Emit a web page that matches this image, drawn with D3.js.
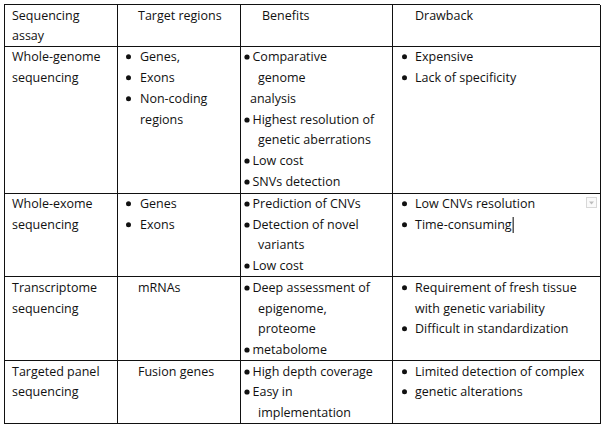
<!DOCTYPE html>
<html>
<head>
<meta charset="utf-8">
<script src="https://cdn.jsdelivr.net/npm/d3@7"></script>
<style>
  body { margin: 0; background: #fff; }
  svg { display: block; }
  .cell text { font-family: "Open Sans", sans-serif; font-size: 12.5px; fill: #111; }
</style>
</head>
<body>
<svg id="chart"></svg>
<script>
// table content, one array per column
// "• " = list bullet, "●" = tight bullet, leading "  " = hanging continuation
const headers = [["Sequencing", "assay"], ["Target regions"], ["Benefits"], ["Drawback"]]

const assays = [
  ["Whole-genome", "sequencing"],
  ["Whole-exome", "sequencing"],
  ["Transcriptome", "sequencing"],
  ["Targeted panel", "sequencing"]
]

const targets = [
  ["• Genes,", "• Exons", "• Non-coding", "  regions"],
  ["• Genes", "• Exons"],
  ["mRNAs"],
  ["Fusion genes"]
]

const benefits = [
  ["●Comparative", "  genome", "analysis", "●Highest resolution of", "  genetic aberrations", "●Low cost", "●SNVs detection"],
  ["●Prediction of CNVs", "●Detection of novel", "  variants", "●Low cost"],
  ["●Deep assessment of", "  epigenome,", "  proteome", "●metabolome"],
  ["●High depth coverage", "●Easy in", "  implementation"]
]

const drawbacks = [
  ["• Expensive", "• Lack of specificity"],
  ["• Low CNVs resolution", "• Time-consuming"],
  ["• Requirement of fresh tissue", "  with genetic variability", "• Difficult in standardization"],
  ["• Limited detection of complex", "• genetic alterations"]
]

const width = 605
const height = 430
const lineStep = 20.7

// column layout: edges and text offsets
const edges = [4, 117, 240, 392, 600]
const cols = [
  { head: 12, text: 12 },
  { head: 138, text: 138, bullet: 128.5, list: 140 },
  { head: 262, text: 250, tight: 247, tightText: 252.5, indent: 258 },
  { head: 415, text: 415, bullet: 404.5, list: 415 }
]

const body = assays.map((d, i) => [d, targets[i], benefits[i], drawbacks[i]])
const rows = [headers].concat(body)
const rowLines = rows.map(r => d3.max(r, c => c.length))
const cum = [0]
rowLines.forEach(n => cum.push(cum[cum.length - 1] + n))

const y = d3.scaleLinear()
  .domain([0, d3.sum(rowLines)])
  .range([4, 423])

const x = d3.scaleOrdinal()
  .domain(d3.range(edges.length))
  .range(edges)

const svg = d3.select('#chart')
  .attr('width', width)
  .attr('height', height)

// cells text
const cell = svg.append('g').attr('class', 'cell')

rows.forEach((row, ri) => {
  const top = y(cum[ri])
  row.forEach((lines, ci) => {
    const c = cols[ci]
    lines.forEach((line, li) => {
      const base = Math.round(top + 15.5 + li * lineStep)
      let tx, str = line
      if (ri === 0) {
        tx = c.head
      } else if (line.startsWith('• ')) {
        str = line.slice(2)
        tx = c.list
        cell.append('circle')
          .attr('cx', c.bullet).attr('cy', base - 4.2)
          .attr('r', 2.5).attr('fill', '#111')
      } else if (line.startsWith('●')) {
        str = line.slice(1)
        tx = c.tightText
        cell.append('circle')
          .attr('cx', c.tight).attr('cy', base - 4)
          .attr('r', 2.6).attr('fill', '#111')
      } else if (line.startsWith('  ')) {
        str = line.slice(2)
        tx = c.list != null ? c.list : c.indent
      } else {
        tx = c.text
      }
      const t = cell.append('text')
        .attr('x', tx)
        .attr('y', base)
        .text(str)
      if (str === 'Time-consuming') {
        // editing caret after the last word
        const ex = tx + t.node().getComputedTextLength() + 1.5
        svg.append('line')
          .attr('x1', ex).attr('x2', ex)
          .attr('y1', base - 12).attr('y2', base + 4)
          .attr('stroke', '#000').attr('stroke-width', 1)
      }
    })
  })
})

// grid
const grid = svg.append('g').attr('stroke', '#111').attr('stroke-width', 1).attr('shape-rendering', 'crispEdges')

grid.selectAll('.h')
  .data(cum)
  .join('line')
  .attr('x1', x(0)).attr('x2', x(4))
  .attr('y1', d => Math.round(y(d)) + 0.5)
  .attr('y2', d => Math.round(y(d)) + 0.5)

grid.selectAll('.v')
  .data(d3.range(edges.length))
  .join('line')
  .attr('x1', d => x(d) + 0.5).attr('x2', d => x(d) + 0.5)
  .attr('y1', Math.round(y(0)) + 0.5)
  .attr('y2', Math.round(y(cum[cum.length - 1])) + 0.5)

// little dropdown handle in the exome drawback cell
const hx = x(4) - 14
const hy = Math.round(y(cum[2])) + 4
svg.append('rect')
  .attr('x', hx + 0.5).attr('y', hy + 0.5)
  .attr('width', 10).attr('height', 10)
  .attr('fill', '#fafafa').attr('stroke', '#d8d8d8')
svg.append('path')
  .attr('d', `M${hx + 3},${hy + 4.5}h5l-2.5,3z`)
  .attr('fill', '#bdbdbd')
</script>
</body>
</html>
